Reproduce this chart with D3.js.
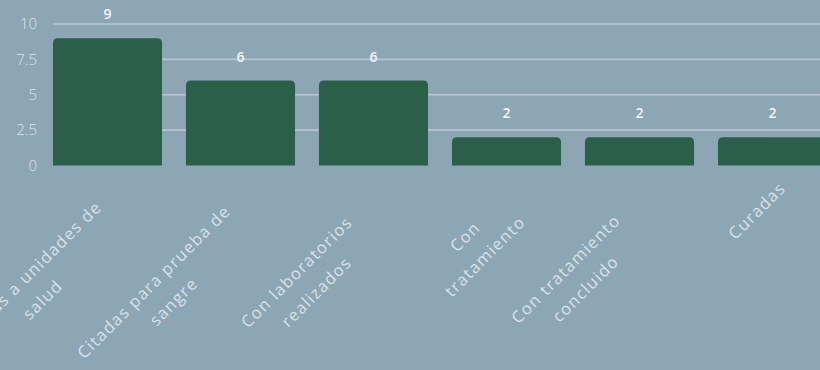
<!DOCTYPE html>
<html>
<head>
<meta charset="utf-8">
<script src="https://cdn.jsdelivr.net/npm/d3@7"></script>
<style>
  html, body { margin: 0; padding: 0; background: #8ca6b4; overflow: hidden; }
  svg { display: block; }
</style>
</head>
<body>
<svg id="chart" width="820" height="370"></svg>
<script>
// Categories (line breaks mark how each axis label wraps)
const categories = [
  "Referidas a unidades de\nsalud",
  "Citadas para prueba de\nsangre",
  "Con laboratorios\nrealizados",
  "Con\ntratamiento",
  "Con tratamiento\nconcluido",
  "Curadas"
];
const values = [9, 6, 6, 2, 2, 2];
const yTicks = [0, 2.5, 5, 7.5, 10];
const yTickLabels = ["0", "2.5", "5", "7.5", "10"];

const W = 820, H = 370;
const FONT = "'Open Sans', 'DejaVu Sans', sans-serif";
const svg = d3.select("#chart");

const x = d3.scaleBand()
  .domain(categories)
  .range([41, 839])
  .paddingInner(0.18)
  .paddingOuter(0.09);

const y = d3.scaleLinear().domain([0, 10]).range([165.5, 24]);

// horizontal grid lines, starting at the first bar
svg.append("g")
  .selectAll("line")
  .data(yTicks.filter(d => d > 0))
  .join("line")
  .attr("x1", x(categories[0]))
  .attr("x2", W)
  .attr("y1", d => y(d))
  .attr("y2", d => y(d))
  .attr("stroke", "#b6c6d0")
  .attr("stroke-width", 1.6);

// y axis labels
const yAxis = d3.axisLeft(y)
  .tickValues(yTicks)
  .tickFormat((d, i) => yTickLabels[i])
  .tickSize(0)
  .tickPadding(0);
const yg = svg.append("g").attr("transform", "translate(37,0)").call(yAxis);
yg.select(".domain").remove();
yg.selectAll("text")
  .attr("fill", "#dbe4e9")
  .style("font-family", FONT)
  .style("font-size", "15px")
  .style("font-weight", 300);

// bars with rounded top corners
const r = 5;
function barPath(d, i) {
  const x0 = x(categories[i]), w = x.bandwidth();
  const y0 = y(d), y1 = y(0);
  const p = d3.path();
  p.moveTo(x0, y1);
  p.lineTo(x0, y0 + r);
  p.quadraticCurveTo(x0, y0, x0 + r, y0);
  p.lineTo(x0 + w - r, y0);
  p.quadraticCurveTo(x0 + w, y0, x0 + w, y0 + r);
  p.lineTo(x0 + w, y1);
  p.closePath();
  return p.toString();
}
svg.append("g")
  .selectAll("path")
  .data(values)
  .join("path")
  .attr("d", barPath)
  .attr("fill", "#2c5f4a");

// value labels above bars
svg.append("g")
  .selectAll("text")
  .data(values)
  .join("text")
  .attr("x", (d, i) => x(categories[i]) + x.bandwidth() / 2)
  .attr("y", d => y(d) - 19)
  .attr("text-anchor", "middle")
  .attr("fill", "#f2f5f7")
  .style("font-family", FONT)
  .style("font-size", "14px")
  .style("font-weight", 600)
  .text(d => d);

// rotated category labels: each label is placed as one end-anchored line,
// then broken into centred lines around that line's midpoint
const lineH = 28;
const labelStyle = sel => sel
  .attr("fill", "#d8e2e8")
  .style("font-family", FONT)
  .style("font-size", "16.5px")
  .style("letter-spacing", "1.3px")
  .style("font-weight", 400);

const labels = svg.append("g")
  .selectAll("g")
  .data(categories)
  .join("g")
  .attr("transform", d => `translate(${x(d) + x.bandwidth() / 2 + 10},185) rotate(-45)`);

labels.each(function (d) {
  const g = d3.select(this);
  const lines = d.split("\n");
  const probe = g.append("text").call(labelStyle).text(lines.join(" "));
  const fullW = probe.node().getComputedTextLength();
  probe.remove();
  g.selectAll("text.line")
    .data(lines)
    .join("text")
    .attr("class", "line")
    .call(labelStyle)
    .attr("text-anchor", "middle")
    .attr("x", -fullW / 2)
    .attr("y", (l, i) => i * lineH + 6)
    .text(l => l);
});
</script>
</body>
</html>
